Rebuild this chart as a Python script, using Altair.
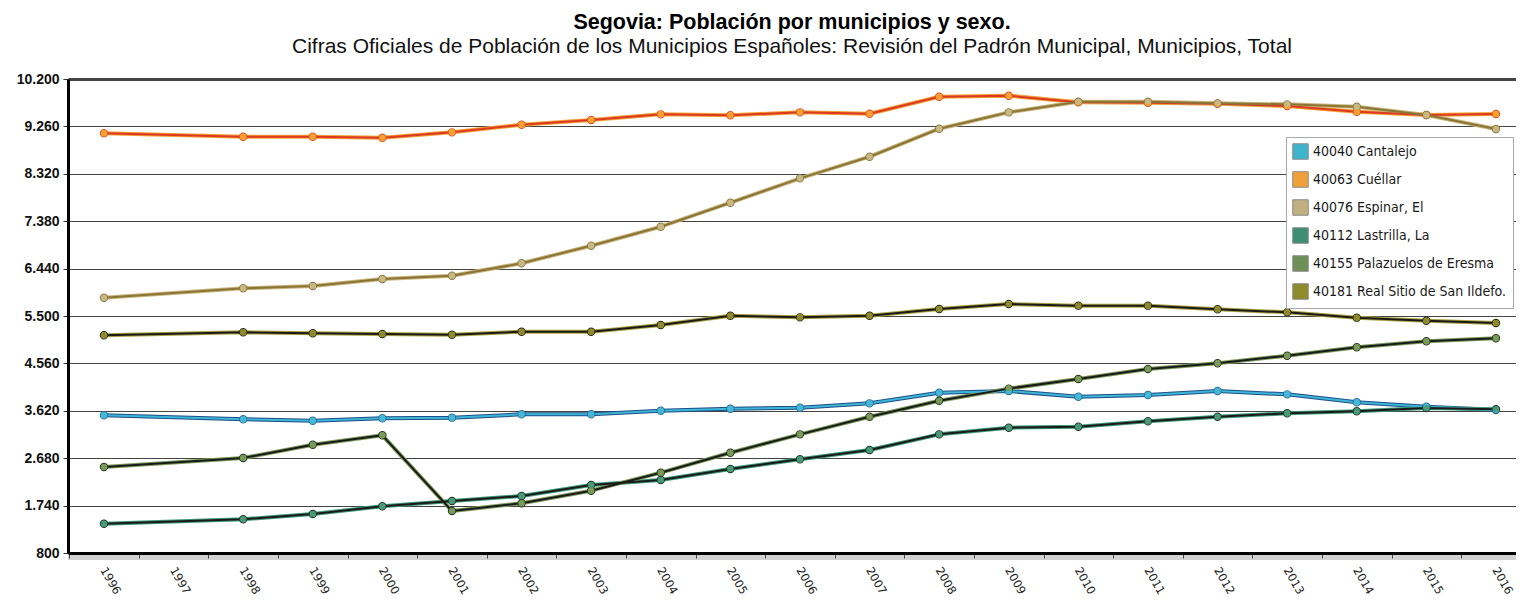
import altair as alt
import pandas as pd

# ---------------- data ----------------
years = [1996, 1998, 1999, 2000, 2001, 2002, 2003, 2004, 2005, 2006,
         2007, 2008, 2009, 2010, 2011, 2012, 2013, 2014, 2015, 2016]
axis_years = list(range(1996, 2017))
y_ticks = [800, 1740, 2680, 3620, 4560, 5500, 6440, 7380, 8320, 9260, 10200]

municipios = [
    "40040 Cantalejo",
    "40063 Cuéllar",
    "40076 Espinar, El",
    "40112 Lastrilla, La",
    "40155 Palazuelos de Eresma",
    "40181 Real Sitio de San Ildefo.",
]

cantalejo = [3530, 3451, 3424, 3471, 3484, 3550, 3550, 3622, 3662, 3682,
             3768, 3979, 4012, 3900, 3933, 4012, 3946, 3788, 3701, 3636]
cuellar = [9123, 9055, 9055, 9035, 9142, 9293, 9387, 9499, 9480, 9539,
           9512, 9849, 9869, 9737, 9730, 9710, 9664, 9551, 9486, 9506]
espinar = [5863, 6049, 6095, 6233, 6299, 6545, 6894, 7271, 7747, 8230,
           8659, 9214, 9539, 9750, 9750, 9717, 9697, 9650, 9486, 9208]
lastrilla = [1381, 1468, 1573, 1726, 1831, 1930, 2148, 2248, 2466, 2658,
             2842, 3153, 3285, 3305, 3412, 3503, 3570, 3610, 3675, 3650]
palazuelos = [2505, 2684, 2948, 3134, 1633, 1786, 2036, 2393, 2789, 3153,
              3503, 3820, 4060, 4250, 4449, 4562, 4713, 4879, 4998, 5058]
real_sitio = [5117, 5177, 5157, 5143, 5129, 5189, 5189, 5321, 5506, 5473,
              5506, 5639, 5738, 5705, 5705, 5633, 5573, 5467, 5407, 5361]

series = [cantalejo, cuellar, espinar, lastrilla, palazuelos, real_sitio]

# colours
halo_colors = ["#1f4f86", "#f3a03a", "#c9b57c", "#3f9a78", "#7b9a58", "#a9a23e"]
core_colors = ["#3cb5d8", "#dc3a1e", "#8a7535", "#1a1a1a", "#1a1a1a", "#1a1a1a"]
point_fill = ["#45b8d8", "#f5a030", "#c8b882", "#4a9a78", "#7a9a5a", "#8e8a2e"]
point_stroke = ["#2a6f9a", "#e0501e", "#8c7a40", "#1e3a2a", "#2a3a1a", "#2a2a10"]
legend_fill = ["#40b4cc", "#f0a038", "#c0b080", "#3d8e72", "#6e8f58", "#8f8a2c"]

rows = []
for name, vals in zip(municipios, series):
    for yr, v in zip(years, vals):
        rows.append({"municipio": name, "year": yr, "value": v})
df = pd.DataFrame(rows)

# ---------------- chart ----------------
W, H = 1448, 474
x_scale = alt.Scale(domain=[1995.483, 2016.288], nice=False, zero=False)
y_scale = alt.Scale(domain=[800, 10200], nice=False, zero=False)

x_enc = alt.X(
    "year:Q", scale=x_scale, title=None,
    axis=alt.Axis(
        values=axis_years, format="d", labelAngle=60,
        labelFont="DejaVu Sans", labelFontSize=11.5, labelColor="#222",
        labelPadding=10, labelOffset=33, tickOffset=-34.8,
        tickSize=5, tickColor="#444", tickWidth=1,
        domainColor="#000", domainWidth=3, grid=False, zindex=1,
    ),
)
y_enc = alt.Y(
    "value:Q", scale=y_scale, title=None,
    axis=alt.Axis(
        values=y_ticks,
        labelExpr="replace(format(datum.value, ','), ',', '.')",
        labelFont="Liberation Sans", labelFontSize=14, labelFontWeight="bold",
        labelColor="#111", labelPadding=4,
        tickSize=5, tickColor="#333",
        domainColor="#000", domainWidth=3,
        grid=True, gridColor="#444",
        gridWidth={"condition": {"test": "datum.value == 10200", "value": 3}, "value": 1.2},
    ),
)

base = alt.Chart(df)

halo = base.mark_line(strokeWidth=4, strokeJoin="round").encode(
    x=x_enc, y=y_enc,
    stroke=alt.Stroke("municipio:N", scale=alt.Scale(domain=municipios, range=halo_colors), legend=None),
)
core = base.mark_line(strokeWidth=2, strokeJoin="round").encode(
    x="year:Q", y="value:Q",
    color=alt.Color("municipio:N", scale=alt.Scale(domain=municipios, range=core_colors), legend=None),
)
pts_stroke = base.mark_point(filled=False, size=52, strokeWidth=1.2, opacity=1).encode(
    x="year:Q", y="value:Q",
    stroke=alt.Stroke("municipio:N", scale=alt.Scale(domain=municipios, range=point_stroke), legend=None),
)
pts = base.mark_circle(size=42, opacity=1).encode(
    x="year:Q", y="value:Q",
    fill=alt.Fill(
        "municipio:N",
        scale=alt.Scale(domain=municipios, range=legend_fill),
        legend=alt.Legend(
            title=None, orient="none", legendX=1218, legendY=58,
            symbolType="square", symbolSize=240, symbolStrokeColor="#8a8a8a",
            symbolStrokeWidth=1, symbolOpacity=1,
            labelFont="DejaVu Sans Condensed", labelFontSize=14, labelColor="#1a1a1a",
            labelLimit=300, rowPadding=7, padding=6,
            fillColor="white", strokeColor="#a8a8a8", cornerRadius=0,
        ),
    ),
)
pts_fill = base.mark_circle(size=30, opacity=1).encode(
    x="year:Q", y="value:Q",
    color=alt.Color("municipio:N", scale=alt.Scale(domain=municipios, range=point_fill), legend=None),
)

band = alt.Chart(alt.Data(values=[{}])).mark_rect(color="#d2d2d2").encode(
    x=alt.value(0), x2=alt.value(W), y=alt.value(476), y2=alt.value(481)
)

chart = (
    alt.layer(band, halo, core, pts_stroke, pts, pts_fill)
    .resolve_scale(stroke="independent", color="independent", fill="independent")
    .properties(
        width=W, height=H,
        autosize=alt.AutoSizeParams(type="none"),
        padding={"left": 60, "top": 71, "right": 0, "bottom": 48},
        title=alt.TitleParams(
            text="Segovia: Población por municipios y sexo.",
            subtitle="Cifras Oficiales de Población de los Municipios Españoles: Revisión del Padrón Municipal, Municipios, Total",
            anchor="middle", font="Liberation Sans", fontSize=21.5, fontWeight="bold",
            color="#000", subtitleFont="Liberation Sans", subtitleFontSize=21,
            subtitleColor="#111", subtitlePadding=3, offset=15,
        ),
    )
    .configure_view(stroke=None)
)

chart.save("out.html", embed_options={"renderer": "svg", "actions": False})
